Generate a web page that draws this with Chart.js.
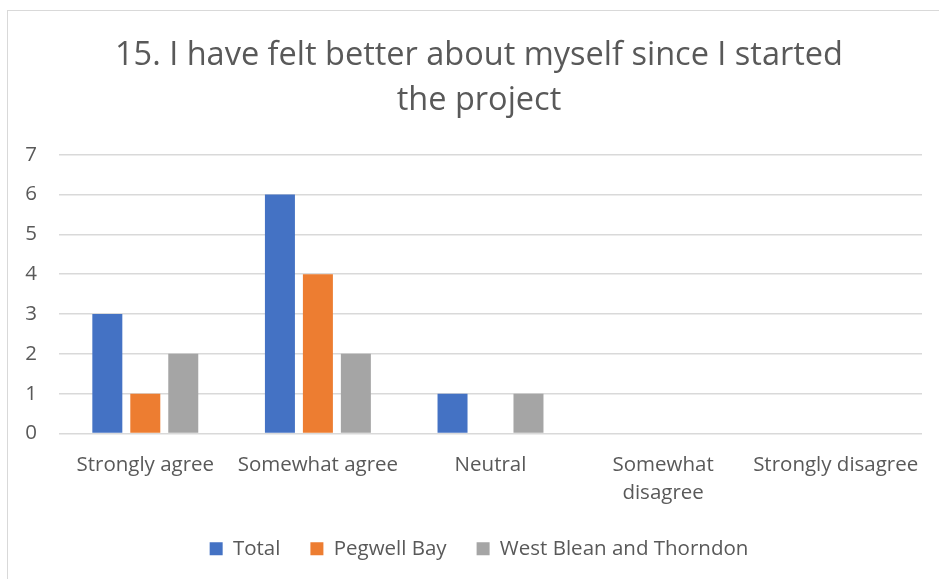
<!DOCTYPE html>
<html>
<head>
<meta charset="utf-8">
<script src="https://cdn.jsdelivr.net/npm/chart.js@4"></script>
<style>
  html, body { margin: 0; padding: 0; background: #fff; }
  #frame {
    position: absolute; left: 7px; top: 10px; width: 940px; height: 580px;
    border: 1px solid #d9d9d9; box-sizing: border-box;
  }
  #wrap { position: absolute; left: 0; top: 0; width: 939px; height: 579px; }
</style>
</head>
<body>
<div id="frame"></div>
<div id="wrap"><canvas id="chart"></canvas></div>
<script>
// Data
const categories = ["Strongly agree", "Somewhat agree", "Neutral", ["Somewhat", "disagree"], "Strongly disagree"];
const totalValues = [3, 6, 1, 0, 0];
const pegwellValues = [1, 4, 0, 0, 0];
const westBleanValues = [2, 2, 1, 0, 0];
const yTicks = [0, 1, 2, 3, 4, 5, 6, 7];

const textColor = "#595959";
const fontFamily = "'Open Sans', 'Liberation Sans', sans-serif";

const ctx = document.getElementById("chart").getContext("2d");
new Chart(ctx, {
  type: "bar",
  data: {
    labels: categories,
    datasets: [
      { label: "Total", data: totalValues, backgroundColor: "#4472C4" },
      { label: "Pegwell Bay", data: pegwellValues, backgroundColor: "#ED7D31" },
      { label: "West Blean and Thorndon", data: westBleanValues, backgroundColor: "#A5A5A5" },
    ],
  },
  options: {
    responsive: true,
    maintainAspectRatio: false,
    animation: false,
    datasets: { bar: { categoryPercentage: 0.66, barPercentage: 0.79 } },
    layout: { padding: { left: 24, right: 5, top: 33, bottom: 10 } },
    plugins: {
      title: {
        display: true,
        text: ["15. I have felt better about myself since I started", "the project"],
        color: textColor,
        font: { family: fontFamily, size: 32.5, weight: "normal", lineHeight: 1.38 },
        padding: { top: 0, bottom: 32 },
      },
      legend: {
        position: "bottom",
        labels: {
          color: textColor,
          boxWidth: 13,
          boxHeight: 13,
          padding: 30,
          font: { family: fontFamily, size: 20.5 },
        },
      },
      tooltip: { enabled: false },
    },
    scales: {
      x: {
        grid: { display: false },
        border: { display: false },
        afterFit: (axis) => { axis.height = 75; },
        ticks: {
          color: textColor,
          font: { family: fontFamily, size: 20.5, lineHeight: 1.36 },
          maxRotation: 0,
          padding: 10,
        },
      },
      y: {
        min: 0,
        max: yTicks[yTicks.length - 1],
        afterBuildTicks: (axis) => { axis.ticks = yTicks.map((v) => ({ value: v })); },
        afterFit: (axis) => { axis.width = 35; },
        grid: { color: "#d9d9d9", lineWidth: 1.5, drawTicks: false },
        border: { display: false },
        ticks: { color: textColor, font: { family: fontFamily, size: 20.5 }, padding: 22 },
      },
      // empty spacer on the right so title/legend centre like the original
      spacer: {
        type: "linear",
        position: "right",
        grid: { display: false },
        border: { display: false },
        ticks: { display: false },
        afterFit: (axis) => { axis.width = 12; },
      },
    },
  },
});
</script>
</body>
</html>
